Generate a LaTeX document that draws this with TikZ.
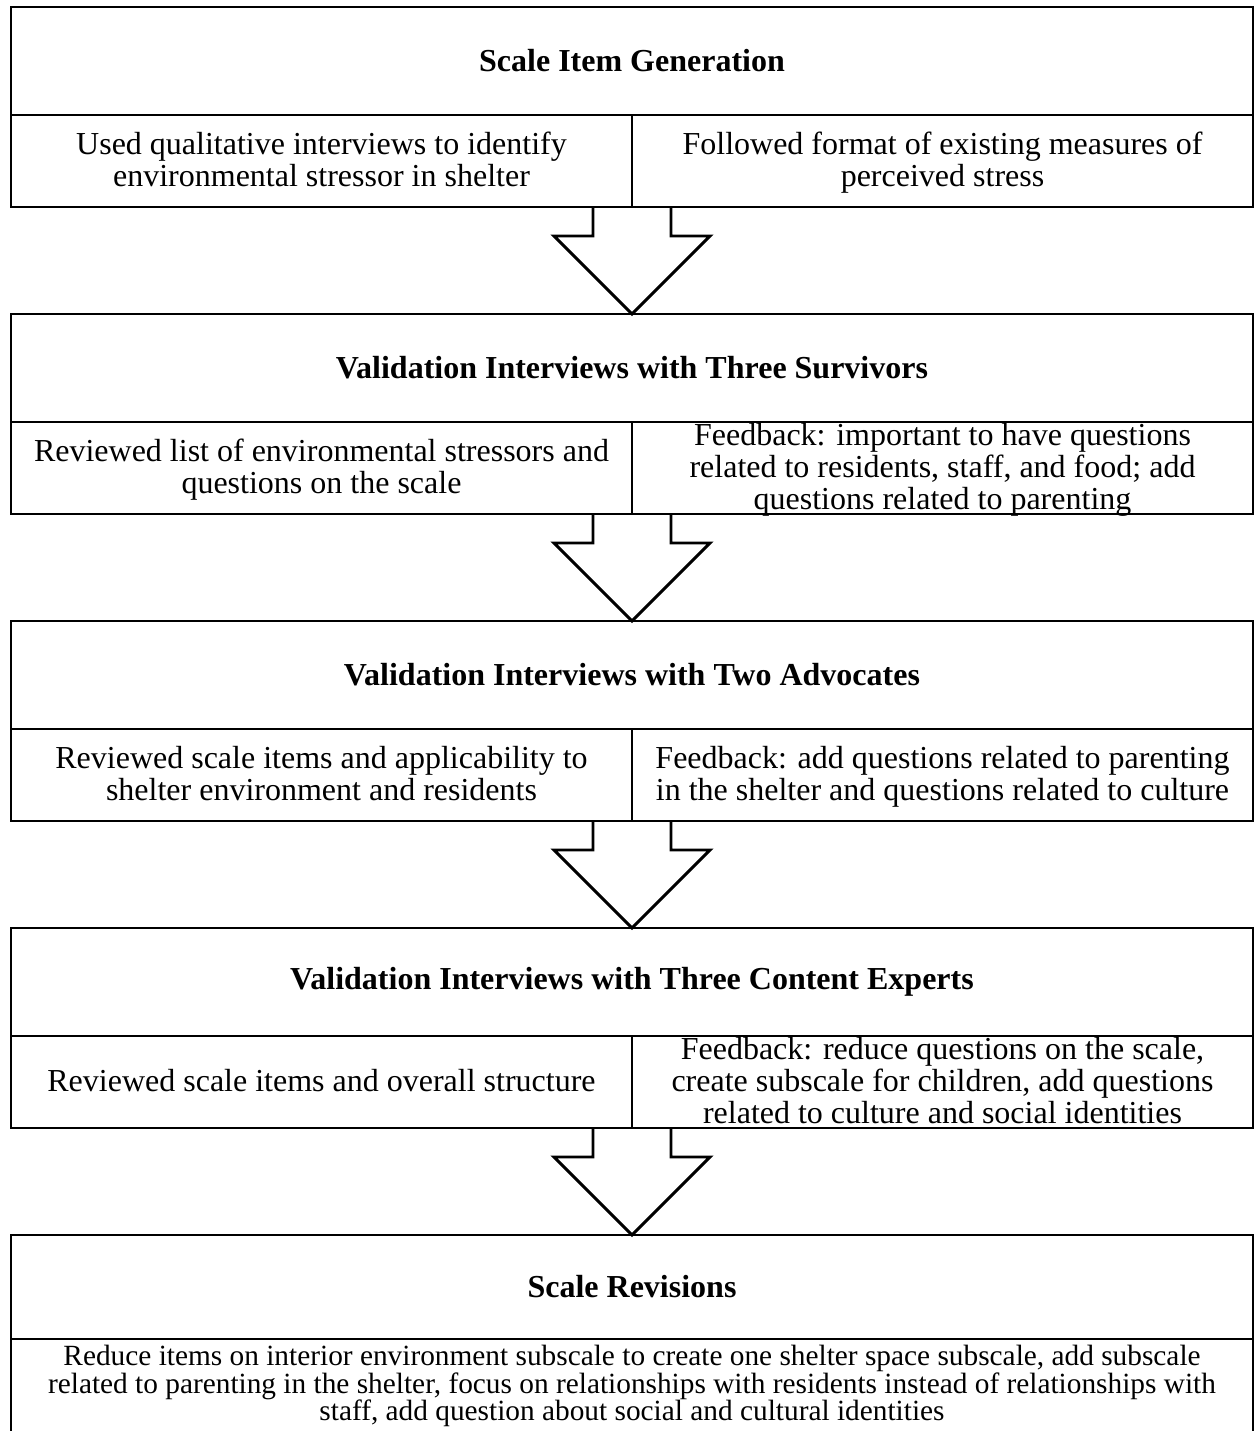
\documentclass[tikz,border=0pt]{standalone}
\usepackage{fontspec}
\setmainfont{Liberation Serif}
\def\u{0.375pt}
\tikzset{
  headbox/.style={draw, line width=1.1pt, outer sep=0pt, inner sep=0pt,
    minimum width=1242*\u, minimum height=108*\u, font=\bfseries\fontsize{12}{14}\selectfont},
  rowbox/.style={draw, line width=1.1pt, outer sep=0pt, inner sep=0pt,
    minimum width=1242*\u, minimum height=92*\u},
  celltext/.style={align=center, inner sep=0pt, font=\fontsize{12}{12}\selectfont,
    execute at begin node=\strut, execute at end node=\strut},
  notetext/.style={align=center, inner sep=0pt, anchor=north, font=\fontsize{11}{10.3}\selectfont},
  blockarrow/.style={line width=1.1pt, line join=miter}
}
\begin{document}
\begin{tikzpicture}[x=\u, y=\u]
\useasboundingbox (0,0) rectangle (1254,-1431);

% step 1
\node[headbox] (h1) at (632,-61) {Scale Item Generation};
\node[rowbox] (r1) at (632,-161) {};
\draw[line width=1.1pt] (r1.north) -- (r1.south);
\node[celltext] (r1l) at (321.5,-164) {Used qualitative interviews to identify\\environmental stressor in shelter};
\node[celltext] (r1r) at (942.5,-164) {Followed format of existing measures of\\perceived stress};

% step 2
\node[headbox] (h2) at (632,-368) {Validation Interviews with Three Survivors};
\node[rowbox] (r2) at (632,-468) {};
\draw[line width=1.1pt] (r2.north) -- (r2.south);
\node[celltext] (r2l) at (321.5,-471) {Reviewed list of environmental stressors and\\questions on the scale};
\node[celltext] (r2r) at (942.5,-471) {Feedback: important to have questions\\related to residents, staff, and food; add\\questions related to parenting};

% step 3
\node[headbox] (h3) at (632,-675) {Validation Interviews with Two Advocates};
\node[rowbox] (r3) at (632,-775) {};
\draw[line width=1.1pt] (r3.north) -- (r3.south);
\node[celltext] (r3l) at (321.5,-778) {Reviewed scale items and applicability to\\shelter environment and residents};
\node[celltext] (r3r) at (942.5,-778) {Feedback: add questions related to parenting\\in the shelter and questions related to culture};

% step 4
\node[headbox] (h4) at (632,-982) {Validation Interviews with Three Content Experts};
\node[rowbox] (r4) at (632,-1082) {};
\draw[line width=1.1pt] (r4.north) -- (r4.south);
\node[celltext] (r4l) at (321.5,-1085) {Reviewed scale items and overall structure};
\node[celltext] (r4r) at (942.5,-1085) {Feedback: reduce questions on the scale,\\create subscale for children, add questions\\related to culture and social identities};

% step 5
\node[headbox, minimum height=104*\u] (h5) at (632,-1287) {Scale Revisions};
\draw[line width=1.1pt] (h5.south west) -- ++(0,-100) (h5.south east) -- ++(0,-100);
\node[notetext] (r5t) at (632,-1345) {Reduce items on interior environment subscale to create one shelter space subscale, add subscale\\related to parenting in the shelter, focus on relationships with residents instead of relationships with\\staff, add question about social and cultural identities};

% block arrows
\foreach \k [count=\n from 2] in {1,...,4}
  \draw[blockarrow] (r\k.south) ++(-39,0) -- ++(0,-29) -- ++(-39,0) -- (h\n.north)
    -- ++(78,78) -- ++(-39,0) -- ++(0,29);
\end{tikzpicture}
\end{document}
